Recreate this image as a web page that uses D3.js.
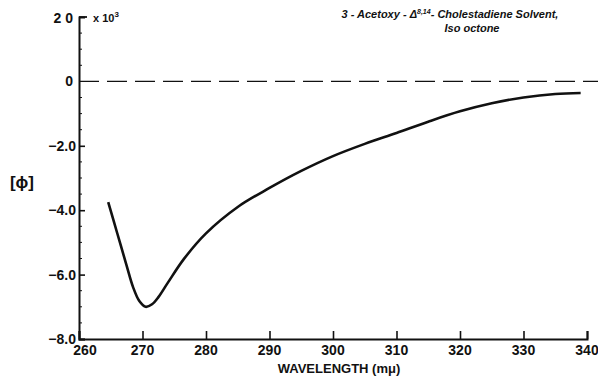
<!DOCTYPE html>
<html>
<head>
<meta charset="utf-8">
<script src="https://cdn.jsdelivr.net/npm/d3@7"></script>
<style>
  body { margin: 0; background: #fff; }
  svg text { font-family: "Liberation Sans", Arial, sans-serif; fill: #111; }
</style>
</head>
<body>
<div id="divchart"></div>
<script>
var width = 598, height = 376;

// wavelength (mu) and molecular rotation [phi] x 10^3
var wavelength = [264.6, 266, 267.5, 268.5, 269.5, 270.5, 271.5, 272.5, 274, 276.5, 280, 285, 290, 295, 300, 305, 310, 315, 320, 325, 330, 335, 339];
var rotation = [-3.75, -4.7, -5.72, -6.38, -6.82, -7.0, -6.92, -6.7, -6.25, -5.52, -4.72, -3.9, -3.31, -2.78, -2.32, -1.94, -1.6, -1.25, -0.93, -0.68, -0.5, -0.39, -0.36];

var xTicks = [260, 270, 280, 290, 300, 310, 320, 330, 340];
var yTicks = [-8, -6, -4, -2];
var yMinor = [-7.5, -7, -6.5, -5.5, -5, -4.5, -3.5, -3, -2.5, -1.5, -1, -0.5, 0.5, 1, 1.5];

var x = d3.scaleLinear().domain([260, 340]).range([79, 587]);
var y = d3.scaleLinear().domain([-8, 2]).range([339, 17]);

var svg = d3.select("#divchart").append("svg")
    .attr("width", width)
    .attr("height", height);

// y axis, ticks pointing inward
var yAxis = d3.axisRight(y)
    .tickValues(yTicks)
    .tickSize(6)
    .tickFormat("");
svg.append("g")
    .attr("transform", "translate(" + x(260) + ",0)")
    .call(yAxis)
    .call(function (g) {
        g.select(".domain").attr("stroke-width", 2).attr("stroke", "#111");
        g.selectAll(".tick line").attr("stroke-width", 1.6).attr("stroke", "#111");
    });

svg.append("g")
    .selectAll("line")
    .data(yMinor)
    .enter()
    .append("line")
    .attr("x1", x(260))
    .attr("x2", x(260) + 3)
    .attr("y1", function (d) { return y(d); })
    .attr("y2", function (d) { return y(d); })
    .attr("stroke", "#111")
    .attr("stroke-width", 1);

// top cap of y axis
svg.append("line")
    .attr("x1", x(260)).attr("x2", x(260) + 8)
    .attr("y1", y(2)).attr("y2", y(2))
    .attr("stroke", "#111").attr("stroke-width", 1.8);

var xAxis = d3.axisTop(x)
    .tickValues(xTicks)
    .tickSize(8)
    .tickFormat("");
svg.append("g")
    .attr("transform", "translate(0," + y(-8) + ")")
    .call(xAxis)
    .call(function (g) {
        g.select(".domain").attr("stroke-width", 2).attr("stroke", "#111");
        g.selectAll(".tick line").attr("stroke-width", 1.6).attr("stroke", "#111");
    });

// tick labels
svg.append("g")
    .selectAll("text")
    .data(xTicks)
    .enter()
    .append("text")
    .attr("x", function (d) { return d == 260 ? x(d) + 6 : x(d); })
    .attr("y", 355)
    .attr("text-anchor", "middle")
    .style("font-size", "14px")
    .style("font-weight", "bold")
    .text(function (d) { return d; });

svg.append("g")
    .selectAll("text")
    .data(yTicks)
    .enter()
    .append("text")
    .attr("x", x(260) - 3)
    .attr("y", function (d) { return y(d) + 5; })
    .attr("text-anchor", "end")
    .style("font-size", "14px")
    .style("font-weight", "bold")
    .text(function (d) { return d3.format(".1f")(d); });

svg.append("text")
    .attr("x", x(260) - 6).attr("y", y(0) + 5)
    .attr("text-anchor", "end")
    .style("font-size", "14px").style("font-weight", "bold")
    .text("0");

svg.append("text")
    .attr("x", x(260) - 6).attr("y", y(2) + 6)
    .attr("text-anchor", "end")
    .style("font-size", "14px").style("font-weight", "bold")
    .text("2 0");

var mult = svg.append("text")
    .attr("x", x(260) + 14).attr("y", y(2) + 5)
    .style("font-size", "11px").style("font-weight", "bold")
    .text("x 10");
mult.append("tspan").attr("dy", -5).style("font-size", "8px").text("3");

// zero line
svg.append("line")
    .attr("x1", x(260)).attr("x2", width)
    .attr("y1", y(0)).attr("y2", y(0))
    .attr("stroke", "#111")
    .attr("stroke-width", 1.4)
    .attr("stroke-dasharray", "20,8");

// curve
var line = d3.line()
    .x(function (d, i) { return x(wavelength[i]); })
    .y(function (d) { return y(d); })
    .curve(d3.curveCatmullRom.alpha(0.5));

svg.append("path")
    .datum(rotation)
    .attr("d", line)
    .attr("fill", "none")
    .attr("stroke", "#111")
    .attr("stroke-width", 2.6);

// axis titles
svg.append("text")
    .attr("x", 22).attr("y", 188)
    .attr("text-anchor", "middle")
    .style("font-size", "17px").style("font-weight", "bold")
    .text("[\u03d5]");

svg.append("text")
    .attr("x", 339).attr("y", 373)
    .attr("text-anchor", "middle")
    .style("font-size", "13px").style("font-weight", "bold")
    .text("WAVELENGTH (m\u03bc)");

// title
var t1 = svg.append("text")
    .attr("x", 450).attr("y", 18)
    .attr("text-anchor", "middle")
    .style("font-size", "11px").style("font-weight", "bold").style("font-style", "italic");
t1.append("tspan").text("3 - Acetoxy - \u0394");
t1.append("tspan").attr("dy", -4).style("font-size", "7px").text("8,14");
t1.append("tspan").attr("dy", 4).text("- Cholestadiene Solvent,");

svg.append("text")
    .attr("x", 472).attr("y", 32)
    .attr("text-anchor", "middle")
    .style("font-size", "11px").style("font-weight", "bold").style("font-style", "italic")
    .text("Iso octone");
</script>
</body>
</html>
